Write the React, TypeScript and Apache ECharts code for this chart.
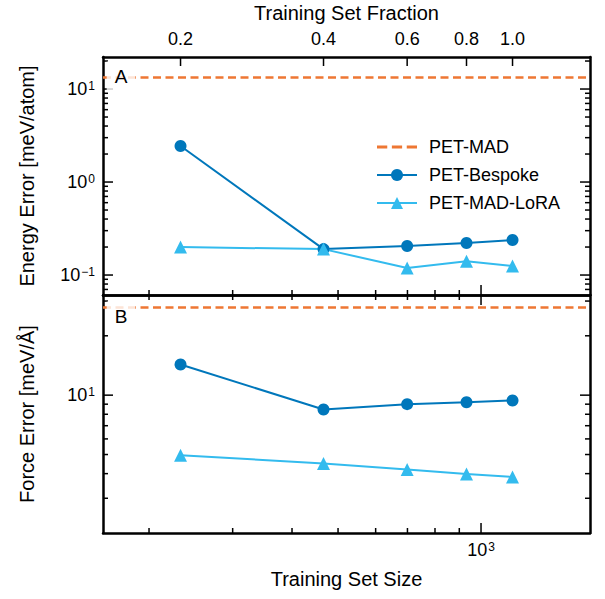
import React, { useEffect, useRef } from 'react';
import * as echarts from 'echarts';

// ---- data ----
const SIZES = [233, 466, 699, 932, 1165];
const FRACTION_LABELS = ['0.2', '0.4', '0.6', '0.8', '1.0'];
const ENERGY_BESPOKE = [2.44, 0.19, 0.205, 0.221, 0.238];
const ENERGY_LORA = [0.2, 0.19, 0.119, 0.141, 0.125];
const ENERGY_PETMAD = 13.5;
const FORCE_BESPOKE = [14.3, 8.46, 9.0, 9.2, 9.4];
const FORCE_LORA = [4.96, 4.5, 4.2, 3.98, 3.85];
const FORCE_PETMAD = 28.0;

// ---- axis ranges and tick values ----
const X_RANGE = [160, 1696];
const ENERGY_RANGE = [0.061, 22.1];
const FORCE_RANGE = [2.0, 32.2];
const X_MAJOR_TICKS = [1000];
const X_MINOR_TICKS = [200, 300, 400, 500, 600, 700, 800, 900];
const ENERGY_MAJOR_TICKS = [0.1, 1, 10];
const ENERGY_MINOR_TICKS = [0.07, 0.08, 0.09, 0.2, 0.3, 0.4, 0.5, 0.6, 0.7, 0.8, 0.9, 2, 3, 4, 5, 6, 7, 8, 9, 20];
const FORCE_MAJOR_TICKS = [10];
const FORCE_MINOR_TICKS = [3, 4, 5, 6, 7, 8, 9, 20, 30];

const BLUE = '#0077BB';
const CYAN = '#33BBEE';
const ORANGE = '#EE7733';
const FONT = '"Liberation Sans", Arial, Helvetica, sans-serif';
const MAJOR_LEN = 10;
const MINOR_LEN = 5;
const FRACTION_LEN = 9;

// side codes: 0 bottom, 1 top, 2 left, 3 right
function buildTickData(
  yRange: number[],
  yMajor: number[],
  yMinor: number[],
  topValues: number[],
  topLen: number,
  topMinor: number[]
) {
  const d: number[][] = [];
  X_MAJOR_TICKS.forEach((v) => d.push([v, yRange[0], MAJOR_LEN, 0]));
  X_MINOR_TICKS.forEach((v) => d.push([v, yRange[0], MINOR_LEN, 0]));
  topValues.forEach((v) => d.push([v, yRange[0], topLen, 1]));
  topMinor.forEach((v) => d.push([v, yRange[0], MINOR_LEN, 1]));
  yMajor.forEach((v) => {
    d.push([X_RANGE[0], v, MAJOR_LEN, 2]);
    d.push([X_RANGE[0], v, MAJOR_LEN, 3]);
  });
  yMinor.forEach((v) => {
    d.push([X_RANGE[0], v, MINOR_LEN, 2]);
    d.push([X_RANGE[0], v, MINOR_LEN, 3]);
  });
  return d;
}

function tickSeries(ax: number, data: number[][]) {
  return {
    type: 'custom',
    xAxisIndex: ax,
    yAxisIndex: ax,
    silent: true,
    clip: false,
    z: 5,
    data,
    renderItem: (params: any, api: any) => {
      const cs = params.coordSys;
      const x = api.value(0);
      const y = api.value(1);
      const len = api.value(2);
      const side = api.value(3);
      const p = api.coord([x, y]);
      let shape;
      if (side === 0) shape = { x1: p[0], y1: cs.y + cs.height, x2: p[0], y2: cs.y + cs.height - len };
      else if (side === 1) shape = { x1: p[0], y1: cs.y, x2: p[0], y2: cs.y + len };
      else if (side === 2) shape = { x1: cs.x, y1: p[1], x2: cs.x + len, y2: p[1] };
      else shape = { x1: cs.x + cs.width, y1: p[1], x2: cs.x + cs.width - len, y2: p[1] };
      return { type: 'line', shape, style: { stroke: '#000', lineWidth: 1.5 } };
    },
  };
}

function powFmt(v: number): string {
  const e = Math.log10(v);
  const r = Math.round(e);
  if (Math.abs(e - r) > 1e-6) return '';
  return '10{sup|' + (r < 0 ? '\u2212' + -r : String(r)) + '}';
}

function rich() {
  return { sup: { fontSize: 12, verticalAlign: 'top', fontFamily: FONT, color: '#000', padding: [0, 0, 0, 1] } };
}

function mainAxis(gridIndex: number, position: string, range: number[]) {
  return {
    type: 'log',
    gridIndex,
    position,
    min: range[0],
    max: range[1],
    axisLine: { show: true, onZero: false, lineStyle: { color: '#000', width: 2.5 } },
    axisTick: { show: false },
    minorTick: { show: false },
    splitLine: { show: false },
    axisLabel: { show: false },
  };
}

function pts(ys: number[]) {
  return SIZES.map((x, i) => [x, ys[i]]);
}

function powLabel() {
  return {
    show: true,
    margin: 8,
    fontSize: 18,
    fontFamily: FONT,
    color: '#000',
    showMinLabel: false,
    showMaxLabel: false,
    formatter: (v: number) => powFmt(v),
    rich: rich(),
  };
}

function nameStyle() {
  return { fontSize: 20, fontFamily: FONT, color: '#000' };
}

function lineSeries(name: string, ax: number, ys: number[], symbol: string, size: number, color: string) {
  return {
    name,
    type: 'line',
    xAxisIndex: ax,
    yAxisIndex: ax,
    data: pts(ys),
    symbol,
    symbolSize: size,
    color,
    itemStyle: { color },
    lineStyle: { color, width: 2 },
    z: 3,
  };
}

function madSeries(ax: number, value: number) {
  return {
    name: 'PET-MAD',
    type: 'line',
    xAxisIndex: ax,
    yAxisIndex: ax,
    data: [],
    color: ORANGE,
    itemStyle: { color: ORANGE },
    lineStyle: { color: ORANGE, width: 2.5, type: [8, 4.5] },
    markLine: {
      silent: true,
      symbol: ['none', 'none'],
      label: { show: false },
      lineStyle: { color: ORANGE, width: 2.5, type: [8, 4.5] },
      data: [{ yAxis: value }],
    },
  };
}

function panelLetter(text: string, y: number) {
  return {
    type: 'text',
    x: 121,
    y,
    z: 100,
    style: {
      text,
      fontSize: 19,
      fontFamily: FONT,
      fill: '#000',
      align: 'center',
      verticalAlign: 'middle',
      textAlign: 'center',
      textVerticalAlign: 'middle',
      backgroundColor: 'rgba(255,255,255,0.8)',
      padding: [5, 8],
    },
  };
}

export default function App() {
  const ref = useRef<HTMLDivElement>(null);
  useEffect(() => {
    if (!ref.current) return;
    const chart = echarts.init(ref.current, undefined, { renderer: 'svg' });

    const topX = mainAxis(0, 'top', X_RANGE) as any;
    topX.axisLabel = {
      show: true,
      margin: 9,
      fontSize: 18,
      fontFamily: FONT,
      color: '#000',
      customValues: SIZES,
      formatter: (v: number) => {
        let best = 0;
        SIZES.forEach((s, i) => {
          if (Math.abs(s - v) < Math.abs(SIZES[best] - v)) best = i;
        });
        return FRACTION_LABELS[best];
      },
    };
    topX.name = 'Training Set Fraction';
    topX.nameLocation = 'middle';
    topX.nameGap = 34;
    topX.nameTextStyle = nameStyle();

    const bottomX = mainAxis(1, 'bottom', X_RANGE) as any;
    bottomX.axisLabel = powLabel();
    bottomX.name = 'Training Set Size';
    bottomX.nameLocation = 'middle';
    bottomX.nameGap = 36;
    bottomX.nameTextStyle = nameStyle();

    const eY = mainAxis(0, 'left', ENERGY_RANGE) as any;
    eY.axisLabel = powLabel();
    eY.name = 'Energy Error [meV/atom]';
    eY.nameLocation = 'middle';
    eY.nameGap = 66;
    eY.nameTextStyle = nameStyle();

    const fY = mainAxis(1, 'left', FORCE_RANGE) as any;
    fY.axisLabel = powLabel();
    fY.name = 'Force Error [meV/Å]';
    fY.nameLocation = 'middle';
    fY.nameGap = 66;
    fY.nameTextStyle = nameStyle();

    const energyTicks = buildTickData(ENERGY_RANGE, ENERGY_MAJOR_TICKS, ENERGY_MINOR_TICKS, SIZES, FRACTION_LEN, []);
    const forceTicks = buildTickData(
      FORCE_RANGE,
      FORCE_MAJOR_TICKS,
      FORCE_MINOR_TICKS,
      X_MAJOR_TICKS,
      MAJOR_LEN,
      X_MINOR_TICKS
    );

    const option: any = {
      animation: false,
      grid: [
        { left: 103, top: 57, width: 487, height: 238 },
        { left: 103, top: 295, width: 487, height: 238 },
      ],
      xAxis: [mainAxis(0, 'bottom', X_RANGE), topX, bottomX, mainAxis(1, 'top', X_RANGE)],
      yAxis: [eY, mainAxis(0, 'right', ENERGY_RANGE), fY, mainAxis(1, 'right', FORCE_RANGE)],
      legend: {
        orient: 'vertical',
        left: 371,
        top: 133,
        itemWidth: 40,
        itemHeight: 15,
        itemGap: 10,
        textStyle: { fontSize: 18, fontFamily: FONT, color: '#000', lineHeight: 18, padding: [0, 0, 0, 7] },
        data: [
          { name: 'PET-MAD', icon: 'path://M0,6h10v3h-10z M14.5,6h10v3h-10z M29,6h10v3h-10z' },
          { name: 'PET-Bespoke' },
          { name: 'PET-MAD-LoRA' },
        ],
        selectedMode: false,
      },
      series: [
        madSeries(0, ENERGY_PETMAD),
        lineSeries('PET-Bespoke', 0, ENERGY_BESPOKE, 'circle', 12, BLUE),
        lineSeries('PET-MAD-LoRA', 0, ENERGY_LORA, 'triangle', 13, CYAN),
        madSeries(2, FORCE_PETMAD),
        lineSeries('PET-Bespoke', 2, FORCE_BESPOKE, 'circle', 12, BLUE),
        lineSeries('PET-MAD-LoRA', 2, FORCE_LORA, 'triangle', 13, CYAN),
        tickSeries(0, energyTicks),
        tickSeries(2, forceTicks),
      ],
      graphic: [panelLetter('A', 76), panelLetter('B', 316)],
    };
    chart.setOption(option);
    return () => chart.dispose();
  }, []);
  return <div ref={ref} style={{ position: 'fixed', left: 0, top: 0, width: 605, height: 599, background: '#fff' }} />;
}
